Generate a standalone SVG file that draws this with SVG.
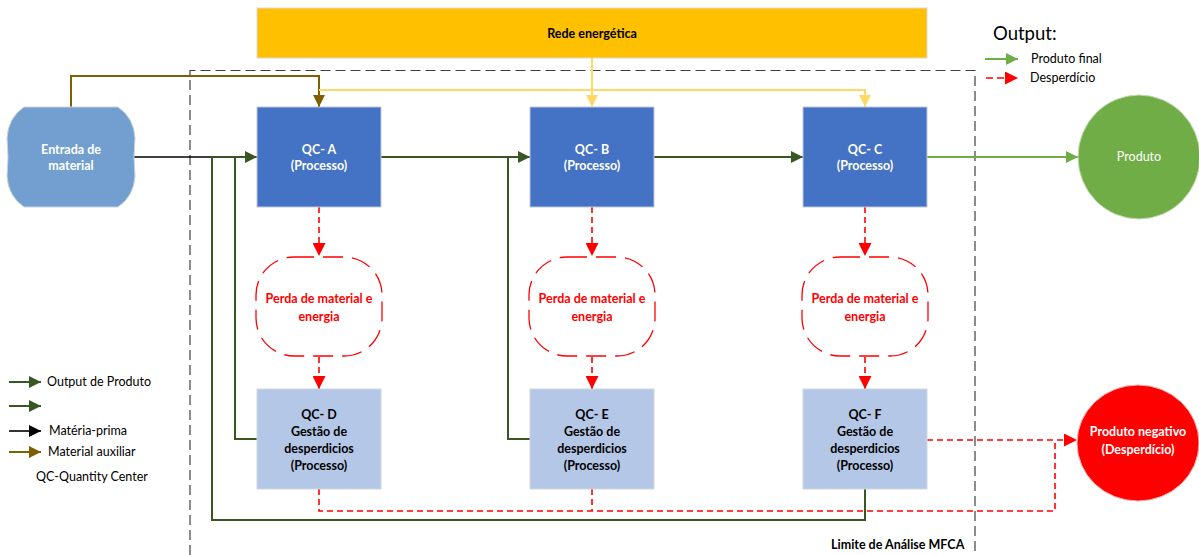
<svg xmlns="http://www.w3.org/2000/svg" width="1199" height="555" viewBox="0 0 1199 555">
<style>
text{font-family:Lato,"Liberation Sans",sans-serif;}
.wb{fill:#ffffff;font-weight:bold;font-size:12.5px;text-anchor:middle;}
.bb{fill:#000000;font-weight:bold;font-size:12.5px;text-anchor:middle;}
.rb{fill:#ff0000;font-weight:bold;font-size:12.5px;text-anchor:middle;}
.leg{fill:#000000;font-size:12.5px;}
.proc{fill:#4472c4;stroke:#bfc7d5;stroke-width:1;}
.waste{fill:#b4c7e7;stroke:#d0d5dd;stroke-width:1;}
.loss{fill:none;stroke:#ff0000;stroke-width:1.3;stroke-dasharray:20 9;}
.g{fill:none;stroke:#385723;stroke-width:2;}
.lg{fill:none;stroke:#70ad47;stroke-width:2;}
.k{fill:none;stroke:#000000;stroke-width:1.6;}
.br{fill:none;stroke:#7f6000;stroke-width:2;}
.y{fill:none;stroke:#ffd966;stroke-width:2;}
.r{fill:none;stroke:#ff0000;stroke-width:1.6;stroke-dasharray:6 4;}
</style>
<defs>
<marker id="mg" viewBox="0 0 12 12" refX="12" refY="6" markerWidth="13" markerHeight="12" markerUnits="userSpaceOnUse" orient="auto"><path d="M0,0 L12,6 L0,12 z" fill="#385723"/></marker>
<marker id="mlg" viewBox="0 0 12 12" refX="12" refY="6" markerWidth="13" markerHeight="12" markerUnits="userSpaceOnUse" orient="auto"><path d="M0,0 L12,6 L0,12 z" fill="#70ad47"/></marker>
<marker id="mk" viewBox="0 0 12 12" refX="12" refY="6" markerWidth="13" markerHeight="12" markerUnits="userSpaceOnUse" orient="auto"><path d="M0,0 L12,6 L0,12 z" fill="#000000"/></marker>
<marker id="mbr" viewBox="0 0 12 12" refX="12" refY="6" markerWidth="13" markerHeight="12" markerUnits="userSpaceOnUse" orient="auto"><path d="M0,0 L12,6 L0,12 z" fill="#7f6000"/></marker>
<marker id="my" viewBox="0 0 12 12" refX="12" refY="6" markerWidth="12" markerHeight="13" markerUnits="userSpaceOnUse" orient="auto"><path d="M0,0 L12,6 L0,12 z" fill="#ffd966"/></marker>
<marker id="mr" viewBox="0 0 12 12" refX="12" refY="6" markerWidth="13" markerHeight="13" markerUnits="userSpaceOnUse" orient="auto"><path d="M0,0 L12,6 L0,12 z" fill="#ff0000"/></marker>
</defs>
<rect width="1199" height="555" fill="#ffffff"/>

<!-- boundary -->
<g id="boundary">
<path d="M190,555 V70.5 H975 V555" fill="none" stroke="#404040" stroke-width="1.2" stroke-dasharray="10 5"/>
<text x="831" y="549" class="bb" style="text-anchor:start">Limite de Análise MFCA</text>
</g>

<g id="rede">
<rect x="257" y="8" width="670" height="50" fill="#ffc000" stroke="#d9d9d9" stroke-width="1"/>
<text x="592" y="38" class="bb">Rede energética</text>
</g>

<g id="connectors">
<path class="br" d="M71,107 V76 H319 V107" marker-end="url(#mbr)"/>
<path class="y" d="M319,90 H865 V107" marker-end="url(#my)"/>
<path class="y" d="M592,58 V107" marker-end="url(#my)"/>
<path class="k" d="M134,157 H212"/>
<path class="g" d="M865,489 V520 H212 V157 H257" marker-end="url(#mg)"/>
<path class="g" d="M257,439 H235 V157"/>
<path class="g" d="M381,157 H530" marker-end="url(#mg)"/>
<path class="g" d="M530,439 H508 V157"/>
<path class="g" d="M654,157 H803" marker-end="url(#mg)"/>
<path class="lg" d="M927,157 H1078" marker-end="url(#mlg)"/>
<path class="r" d="M319,207 V256" marker-end="url(#mr)"/>
<path class="r" d="M319,357 V389" marker-end="url(#mr)"/>
<path class="r" d="M592,207 V256" marker-end="url(#mr)"/>
<path class="r" d="M592,357 V389" marker-end="url(#mr)"/>
<path class="r" d="M865,207 V256" marker-end="url(#mr)"/>
<path class="r" d="M865,357 V389" marker-end="url(#mr)"/>
<path class="r" d="M319,489 V511 H1055 V440"/>
<path class="r" d="M592,489 V511"/>
<path class="r" d="M927,440 H1077" marker-end="url(#mr)"/>
</g>

<g id="entrada">
<path d="M24,107 L118,107 Q134,118 135,138 Q133,157 135,176 Q134,196 118,207 L24,207 Q8,196 7,176 Q9,157 7,138 Q8,118 24,107 Z" fill="#729fcf" stroke="#c8d3e0" stroke-width="1"/>
<text x="71" y="154" class="wb">Entrada de</text>
<text x="71" y="170" class="wb">material</text>
</g>

<g id="qc-a">
<rect x="257" y="107" width="124" height="100" class="proc"/>
<text x="319" y="154" class="wb">QC- A</text>
<text x="319" y="170" class="wb">(Processo)</text>
</g>
<g id="qc-b">
<rect x="530" y="107" width="124" height="100" class="proc"/>
<text x="592" y="154" class="wb">QC- B</text>
<text x="592" y="170" class="wb">(Processo)</text>
</g>
<g id="qc-c">
<rect x="803" y="107" width="124" height="100" class="proc"/>
<text x="865" y="154" class="wb">QC- C</text>
<text x="865" y="170" class="wb">(Processo)</text>
</g>

<g id="perda-a">
<rect x="256" y="257" width="126" height="99" rx="38" ry="38" class="loss"/>
<text x="319" y="303" class="rb">Perda de material e</text>
<text x="319" y="321" class="rb">energia</text>
</g>
<g id="perda-b">
<rect x="529" y="257" width="126" height="99" rx="38" ry="38" class="loss"/>
<text x="592" y="303" class="rb">Perda de material e</text>
<text x="592" y="321" class="rb">energia</text>
</g>
<g id="perda-c">
<rect x="802" y="257" width="126" height="99" rx="38" ry="38" class="loss"/>
<text x="865" y="303" class="rb">Perda de material e</text>
<text x="865" y="321" class="rb">energia</text>
</g>

<g id="qc-d">
<rect x="257" y="389" width="124" height="100" class="waste"/>
<text x="319" y="419" class="bb">QC- D</text>
<text x="319" y="436" class="bb">Gestão de</text>
<text x="319" y="453" class="bb">desperdicios</text>
<text x="319" y="470" class="bb">(Processo)</text>
</g>
<g id="qc-e">
<rect x="530" y="389" width="124" height="100" class="waste"/>
<text x="592" y="419" class="bb">QC- E</text>
<text x="592" y="436" class="bb">Gestão de</text>
<text x="592" y="453" class="bb">desperdicios</text>
<text x="592" y="470" class="bb">(Processo)</text>
</g>
<g id="qc-f">
<rect x="803" y="389" width="124" height="100" class="waste"/>
<text x="865" y="419" class="bb">QC- F</text>
<text x="865" y="436" class="bb">Gestão de</text>
<text x="865" y="453" class="bb">desperdicios</text>
<text x="865" y="470" class="bb">(Processo)</text>
</g>

<g id="produto">
<ellipse cx="1139" cy="157" rx="61" ry="62" fill="#70ad47" stroke="#c5d9b5" stroke-width="1"/>
<text x="1139" y="161" style="fill:#ffffff;font-size:12.5px;text-anchor:middle">Produto</text>
</g>
<g id="produto-negativo">
<ellipse cx="1138" cy="443" rx="61" ry="58" fill="#ff0000" stroke="#f2b3b3" stroke-width="1"/>
<text x="1138" y="436" class="wb">Produto negativo</text>
<text x="1138" y="454" class="wb">(Desperdício)</text>
</g>

<g id="legend-output">
<text x="993" y="40" style="fill:#000000;font-size:18.5px">Output:</text>
<path class="lg" d="M985,59 H1018" marker-end="url(#mlg)"/>
<text x="1031" y="63" class="leg">Produto final</text>
<path class="r" d="M986,78 H1018" marker-end="url(#mr)" style="stroke-dasharray:7 4"/>
<text x="1030" y="82" class="leg">Desperdício</text>
</g>

<g id="legend-left">
<path class="g" d="M9,382 H41" marker-end="url(#mg)"/>
<text x="47" y="386" class="leg">Output de Produto</text>
<path class="g" d="M9,406 H41" marker-end="url(#mg)"/>
<path class="k" d="M9,431 H41" marker-end="url(#mk)"/>
<text x="49" y="435" class="leg">Matéria-prima</text>
<path class="br" d="M9,452 H41" marker-end="url(#mbr)"/>
<text x="48" y="456" class="leg">Material auxiliar</text>
<text x="36" y="481" class="leg">QC-Quantity Center</text>
</g>
</svg>
